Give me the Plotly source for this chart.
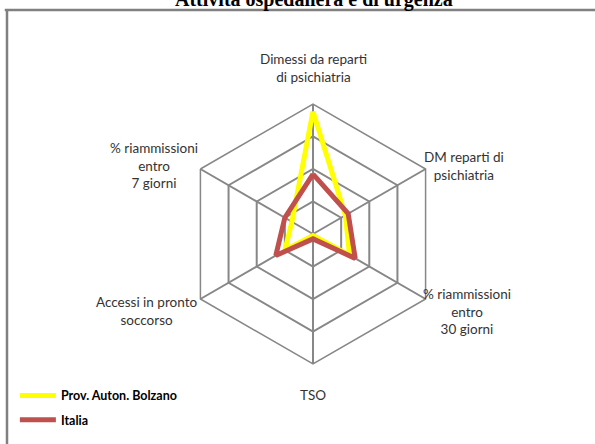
import plotly.graph_objects as go

# categories clockwise from the top
categorie = [
    "Dimessi da reparti<br>di psichiatria",
    "DM reparti di<br>psichiatria",
    "% riammissioni<br>entro<br>30 giorni",
    "TSO",
    "Accessi in pronto<br>soccorso",
    "% riammissioni<br>entro<br>7 giorni",
]
bolzano = [3.77, 1.15, 1.3, 0.05, 1.0, 0.75]
italia = [1.84, 1.25, 1.5, 0.15, 1.32, 1.0]

serie = [
    ("Prov. Auton. Bolzano", bolzano, "#FFFF00"),
    ("Italia", italia, "#C0504D"),
]

W, H = 595, 444

def px(x, y):
    # pixel position -> paper fraction
    return x / W, 1 - y / H

fig = go.Figure()
for i, (nome, valori, colore) in enumerate(serie):
    # close the polygon
    fig.add_trace(go.Scatterpolar(
        r=valori + valori[:1],
        theta=categorie + categorie[:1],
        mode="lines",
        name=nome,
        legendgroup=str(i),
        line=dict(color=colore, width=5),
    ))

# label positions (pixel centres) for each category
pos_etichette = [(313, 68), (464, 166), (467, 311), (313, 395), (146, 311), (154, 165)]
annotazioni = []
for testo, (x, y) in zip(categorie, pos_etichette):
    ax, ay = px(x, y)
    annotazioni.append(dict(text=testo, xref="paper", yref="paper", x=ax, y=ay,
                            xanchor="center", yanchor="middle",
                            showarrow=False, align="center",
                            font=dict(size=13.5, color="#333333")))

tx, ty = px(314, 13)
annotazioni.append(dict(
    text="<b>Attività ospedaliera e di urgenza</b>",
    xref="paper", yref="paper", x=tx, y=ty, xanchor="center", yanchor="bottom",
    showarrow=False,
    font=dict(family="Liberation Serif, Times New Roman, serif", size=20, color="black"),
))

cx, cy = 313, 234
R = 130
grigio = "#878787"
fig.update_layout(
    width=W, height=H,
    margin=dict(l=0, r=0, t=0, b=0, autoexpand=False),
    paper_bgcolor="white",
    plot_bgcolor="white",
    font=dict(family="Lato, Noto Sans, sans-serif", size=12, color="#262626"),
    polar=dict(
        domain=dict(x=[(cx - R) / W, (cx + R) / W], y=[1 - (cy + R) / H, 1 - (cy - R) / H]),
        bgcolor="white",
        gridshape="linear",
        radialaxis=dict(range=[0, 4], dtick=1, showticklabels=False, ticks="",
                        showline=False, gridcolor=grigio, gridwidth=1.5),
        angularaxis=dict(rotation=90, direction="clockwise", linecolor=grigio,
                         linewidth=1.5, gridcolor=grigio, gridwidth=1.5,
                         ticks="", showticklabels=False),
    ),
    legend=dict(x=0.025, y=0.142, xanchor="left", yanchor="top",
                font=dict(size=12.5, weight="bold", color="black"),
                itemwidth=36, tracegroupgap=5),
    annotations=annotazioni,
    shapes=[
        dict(type="line", xref="paper", yref="paper", x0=0.008, x1=1.0,
             y0=1 - 10 / H, y1=1 - 10 / H, line=dict(color="#808080", width=2.5)),
        dict(type="line", xref="paper", yref="paper", x0=7 / W, x1=7 / W,
             y0=0, y1=1 - 10 / H, line=dict(color="#808080", width=2.5)),
    ],
)

# drop the default page margin so the figure sits at the window corner
fig.write_html("out.html", config={"displayModeBar": False},
               post_script="document.body.style.margin='0';")
